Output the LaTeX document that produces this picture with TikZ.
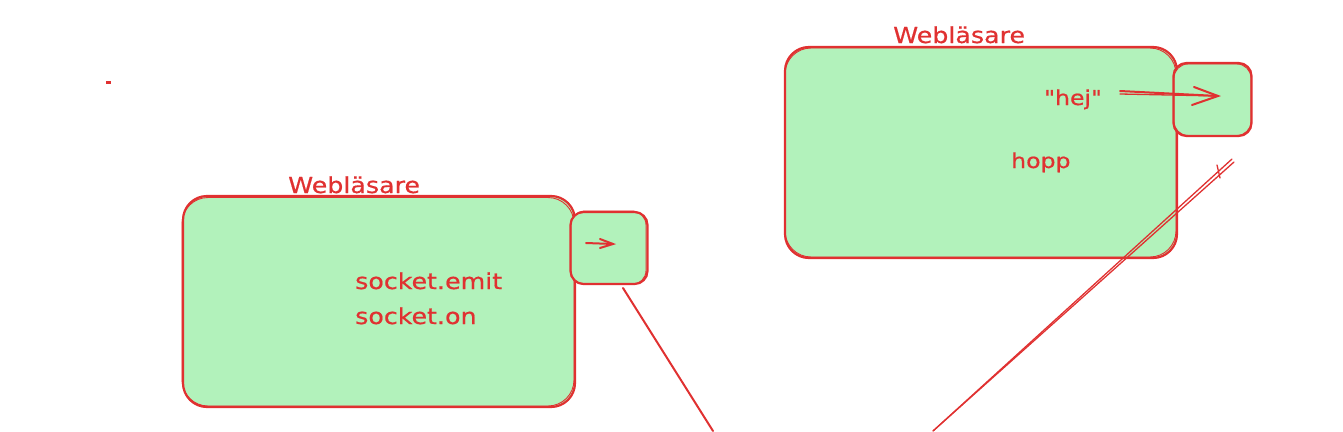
\documentclass[tikz,border=0pt]{standalone}
\usepackage{fontspec}
\newfontfamily\hand[FakeStretch=1.15,FakeBold=0.6]{DejaVu Sans}
\usetikzlibrary{arrows.meta}
\definecolor{sred}{HTML}{E03131}
\definecolor{sgreen}{HTML}{B2F2BB}
\tikzset{
  bigbox/.style={draw=sred, fill=sgreen, line width=2.2pt, rounded corners=24pt, inner sep=0pt},
  smallbox/.style={draw=sred, fill=sgreen, line width=2.2pt, rounded corners=13pt, inner sep=0pt},
  sketch/.style={draw=sred, line width=0.9pt, rounded corners=#1},
  lbl/.style={text=sred, font=\hand\fontsize{22}{26}\selectfont, anchor=base west, inner sep=0pt},
  lblsm/.style={text=sred, font=\hand\fontsize{20.5}{24}\selectfont, anchor=base west, inner sep=0pt},
  wire/.style={draw=sred, line width=2pt, line cap=round},
  thin/.style={draw=sred, line width=1.3pt, line cap=round},
}
\begin{document}
\begin{tikzpicture}[x=1pt,y=-1pt]
\useasboundingbox (0,0) rectangle (1343,431);
% stray dot
\fill[sred] (106,81) rectangle (111,84);

% left browser
\node[bigbox, minimum width=392pt, minimum height=211pt] (lbig) at (379,301.5) {};
\draw[sketch=26pt] (182,197.5) rectangle (574,406);
\node[smallbox, minimum width=77pt, minimum height=72pt] (lsmall) at (609,248) {};
\draw[sketch=14pt] (571,211) rectangle (646,284.5);
\node[lbl] (llabel) at (288,193) {Webläsare};
\node[lbl] (emit) at (355,289) {socket.emit};
\node[lbl] (on) at (355,324) {socket.on};
\coordinate (la1) at (586,243);
\coordinate (la2) at (613,244);
\draw[wire] (la1) -- (la2);
\draw[wire] (600,239) -- (la2) -- (600,248);

% right browser
\node[bigbox, minimum width=392pt, minimum height=211pt] (rbig) at (981,152.5) {};
\draw[sketch=26pt] (785,48) rectangle (1176,257);
\node[smallbox, minimum width=78pt, minimum height=73pt] (rsmall) at (1212.5,99.5) {};
\draw[sketch=14pt] (1174,64) rectangle (1251,135.5);
\node[lbl] (rlabel) at (893,43) {Webläsare};
\node[lblsm] (hej) at (1044,105) {"hej"};
\node[lblsm] (hopp) at (1011,168) {hopp};
\coordinate (ra1) at (1120,91);
\coordinate (ra2) at (1218,96);
\draw[wire] (ra1) -- (ra2);
\draw[thin] (1120,94) -- (ra2);
\draw[wire] (1194,87) -- (ra2) -- (1192,105);

% connectors
\coordinate (c1) at (623,288);
\coordinate (c2) at (713,431);
\draw[wire] (c1) -- (c2);
\coordinate (d1) at (1232,159);
\coordinate (d2) at (1234,162);
\coordinate (d3) at (933,431);
\draw[thin] (d1) -- (d3);
\draw[thin] (d2) -- (d3);
\draw[thin] (1217,165) -- (1220,178);
\end{tikzpicture}
\end{document}
